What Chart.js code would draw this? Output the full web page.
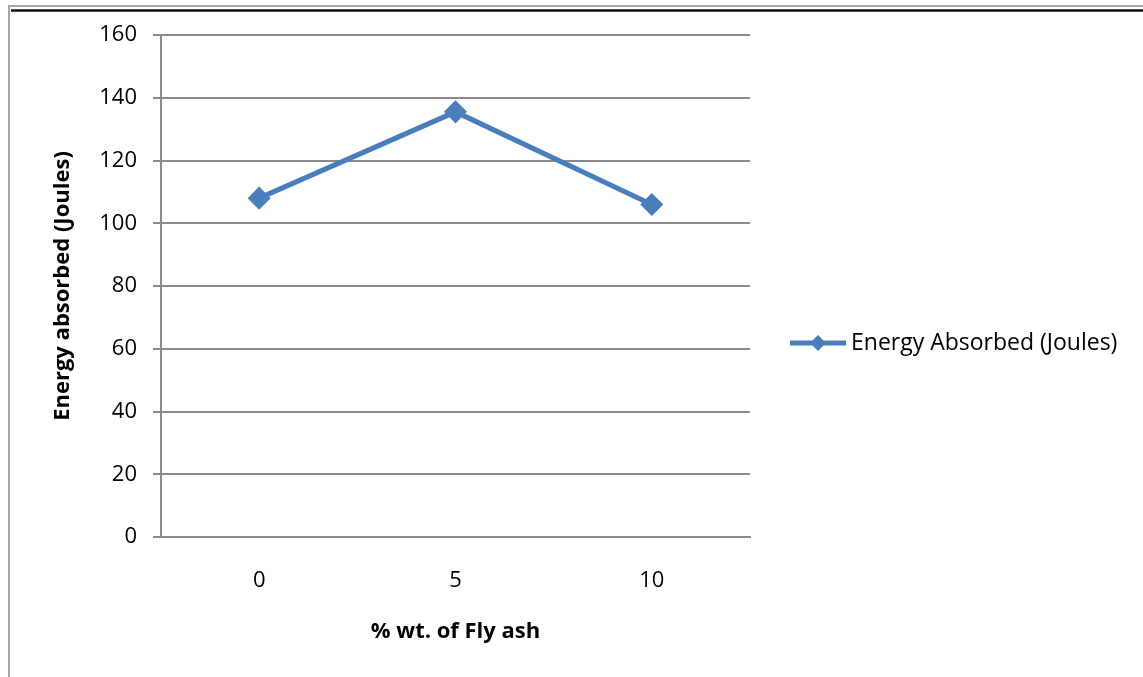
<!DOCTYPE html>
<html lang="en">
  <head>
    <meta charset="UTF-8" />
    <title>Energy Absorbed vs Fly Ash</title>
    <script src="https://cdn.jsdelivr.net/npm/chart.js"></script>
    <style>
      html, body { margin: 0; padding: 0; background: #fff; }
      #wrap { position: relative; width: 1143px; height: 677px; }
    </style>
  </head>
  <body>
    <div id="wrap"><canvas id="energyChart" width="1143" height="677"></canvas></div>

    <script>
      const flyAsh = ["0", "5", "10"];
      const energyAbsorbed = [108, 135.5, 106];
      const yTicks = [0, 20, 40, 60, 80, 100, 120, 140, 160];
      const seriesName = "Energy Absorbed (Joules)";

      const blue = "#4a7ebb";
      const grid = "#8a8a8a";
      const font = "'Open Sans', 'Liberation Sans', sans-serif";

      // outer frame lines of the figure
      const framePlugin = {
        id: "frame",
        beforeDraw(chart) {
          const c = chart.ctx;
          c.save();
          c.fillStyle = "#fff";
          c.fillRect(0, 0, chart.width, chart.height);
          c.strokeStyle = "#a6a6a6";
          c.lineWidth = 2;
          c.beginPath();
          c.moveTo(9, chart.height);
          c.lineTo(9, 6);
          c.lineTo(chart.width, 6);
          c.stroke();
          c.strokeStyle = "#111";
          c.lineWidth = 2.5;
          c.beginPath();
          c.moveTo(11, 10.5);
          c.lineTo(chart.width, 10.5);
          c.stroke();
          c.restore();
        },
      };

      // legend on the right: line with diamond marker and the series name
      const sideLegend = {
        id: "sideLegend",
        afterDraw(chart) {
          const c = chart.ctx;
          const y = 343;
          c.save();
          c.strokeStyle = blue;
          c.lineWidth = 5;
          c.beginPath();
          c.moveTo(790, y);
          c.lineTo(846, y);
          c.stroke();
          c.fillStyle = blue;
          c.beginPath();
          c.moveTo(818, y - 8);
          c.lineTo(826, y);
          c.lineTo(818, y + 8);
          c.lineTo(810, y);
          c.closePath();
          c.fill();
          c.fillStyle = "#000";
          c.font = "23px " + font;
          c.textBaseline = "middle";
          c.fillText(chart.data.datasets[0].label, 851, y);
          c.restore();
        },
      };

      new Chart(document.getElementById("energyChart"), {
        type: "line",
        data: {
          labels: flyAsh,
          datasets: [
            {
              label: seriesName,
              data: energyAbsorbed,
              borderColor: blue,
              backgroundColor: blue,
              borderWidth: 5,
              pointStyle: "rectRot",
              pointRadius: 8,
              pointHoverRadius: 8,
              tension: 0,
            },
          ],
        },
        options: {
          responsive: false,
          animation: false,
          layout: { padding: { top: 35, right: 393, left: 0, bottom: 0 } },
          plugins: { legend: { display: false }, tooltip: { enabled: false } },
          scales: {
            x: {
              offset: true,
              grid: { display: false, drawTicks: false },
              border: { display: true, color: grid, width: 2 },
              ticks: { color: "#000", padding: 31, font: { family: font, size: 22 } },
              title: {
                display: true,
                text: "% wt. of Fly ash",
                color: "#000",
                padding: { top: 10, bottom: 32 },
                font: { family: font, size: 22, weight: "bold" },
              },
              afterFit(scale) { scale.height = 140; },
            },
            y: {
              min: 0,
              max: 160,
              afterBuildTicks(scale) { scale.ticks = yTicks.map((v) => ({ value: v })); },
              grid: { color: grid, lineWidth: 2, tickLength: 8 },
              border: { display: true, color: grid, width: 2 },
              ticks: { color: "#000", padding: 16, font: { family: font, size: 22 } },
              title: {
                display: true,
                text: "Energy absorbed (Joules)",
                color: "#000",
                padding: { top: 50 },
                font: { family: font, size: 22, weight: "bold" },
              },
              afterFit(scale) { scale.width = 161; },
            },
          },
        },
        plugins: [framePlugin, sideLegend],
      });
    </script>
  </body>
</html>
